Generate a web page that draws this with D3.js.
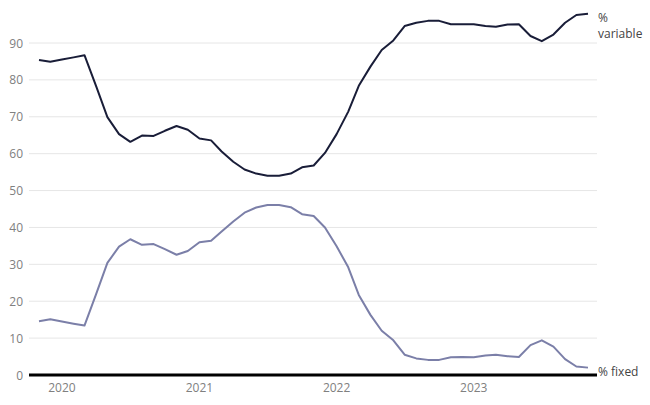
<!DOCTYPE html>
<html>
<head>
<meta charset="utf-8">
<script src="https://cdn.jsdelivr.net/npm/d3@7"></script>
<style>
  html, body { margin: 0; padding: 0; background: #fff; }
  svg { display: block; font-family: "Open Sans", "Noto Sans", sans-serif; }
</style>
</head>
<body>
<svg id="chart" width="650" height="405"></svg>
<script>
// Monthly data, Nov 2019 – Nov 2023
const startMonth = "2019-11";
const variableShare = [
  85.4, 84.9, 85.5, 86.1, 86.7, 78.3, 69.9, 65.3, 63.2, 64.9, 64.8, 66.2, 67.5, 66.5,
  64.1, 63.6, 60.6, 57.8, 55.7, 54.6, 54.0, 54.0, 54.6, 56.3, 56.8, 60.2,
  65.3, 71.4, 78.4, 83.6, 88.1, 90.7, 94.6, 95.5, 96.0, 96.0, 95.1, 95.1,
  95.1, 94.6, 94.4, 95.0, 95.1, 91.9, 90.5, 92.3, 95.5, 97.6, 97.9
];
const fixedShare = [
  14.6, 15.1, 14.5, 13.9, 13.4, 21.9, 30.4, 34.8, 36.8, 35.3, 35.5, 34.1, 32.6, 33.6,
  36.0, 36.4, 38.9, 41.6, 44.0, 45.4, 46.1, 46.1, 45.5, 43.6, 43.1, 40.0,
  34.9, 29.2, 21.7, 16.3, 12.0, 9.4, 5.5, 4.5, 4.1, 4.1, 4.8, 4.9,
  4.8, 5.3, 5.5, 5.1, 4.9, 8.1, 9.4, 7.7, 4.3, 2.3, 2.0
];
const yTicks = [0, 10, 20, 30, 40, 50, 60, 70, 80, 90];
const xTickYears = [2020, 2021, 2022, 2023];
const seriesLabels = { variable: ["%", "variable"], fixed: ["% fixed"] };

const parse = d3.timeParse("%Y-%m");
const start = parse(startMonth);
const dates = variableShare.map((_, i) => d3.timeMonth.offset(start, i));

const svg = d3.select("#chart");
const x = d3.scaleTime().domain([dates[0], dates[dates.length - 1]]).range([39, 588]);
const y = d3.scaleLinear().domain([0, 90]).range([375, 43]);

const gridX0 = 29, gridX1 = 597;

// gridlines
svg.append("g").selectAll("line").data(yTicks.filter(d => d > 0)).join("line")
  .attr("x1", gridX0).attr("x2", gridX1)
  .attr("y1", d => y(d)).attr("y2", d => y(d))
  .attr("stroke", "#e6e6e6").attr("stroke-width", 1);

// y tick labels
svg.append("g").selectAll("text").data(yTicks).join("text")
  .attr("x", 23).attr("y", d => y(d) + 4.5)
  .attr("text-anchor", "end")
  .attr("font-size", 12).attr("fill", "#808080")
  .text(d => d);

// x tick labels
svg.append("g").selectAll("text").data(xTickYears).join("text")
  .attr("x", d => x(new Date(d, 0, 1)))
  .attr("y", 392)
  .attr("text-anchor", "middle")
  .attr("font-size", 12).attr("fill", "#808080")
  .text(d => d);

const line = d3.line().x((d, i) => x(dates[i])).y(d => y(d));

svg.append("path").datum(fixedShare)
  .attr("d", line).attr("fill", "none")
  .attr("stroke", "#7b7fa8").attr("stroke-width", 2)
  .attr("stroke-linejoin", "round");

svg.append("path").datum(variableShare)
  .attr("d", line).attr("fill", "none")
  .attr("stroke", "#191d38").attr("stroke-width", 2)
  .attr("stroke-linejoin", "round");

// baseline
svg.append("line")
  .attr("x1", gridX0).attr("x2", gridX1)
  .attr("y1", y(0)).attr("y2", y(0))
  .attr("stroke", "#000").attr("stroke-width", 3);

// series labels
const vl = svg.append("text").attr("x", 598).attr("y", 22)
  .attr("font-size", 12).attr("fill", "#444");
seriesLabels.variable.forEach((t, i) => {
  vl.append("tspan").attr("x", 598).attr("dy", i === 0 ? 0 : 16).text(t);
});
svg.append("text").attr("x", 598).attr("y", 376)
  .attr("font-size", 12).attr("fill", "#444")
  .text(seriesLabels.fixed[0]);
</script>
</body>
</html>
